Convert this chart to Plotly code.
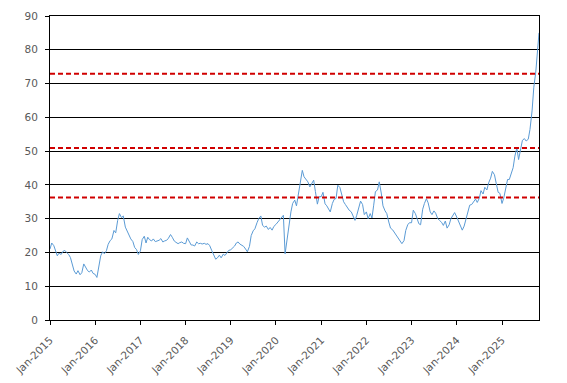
import pandas as pd
import plotly.graph_objects as go

# Half-monthly readings (1st and 15th of each month)
v2015 = [21.0, 22.8, 22.0, 20.5, 19.0, 19.8, 19.4, 20.3, 20.6, 20.0, 19.4, 18.5,
         16.0, 14.5, 13.6, 14.6, 13.4, 14.0, 16.6, 15.6, 14.6, 14.2, 14.8, 13.8]
v2016 = [13.5, 12.6, 16.8, 19.0, 20.2, 19.6, 20.5, 22.4, 23.5, 24.0, 26.5, 25.8,
         29.5, 31.5, 30.3, 30.8, 27.5, 26.4, 25.0, 24.0, 23.2, 21.5, 20.8, 19.4]
v2017 = [20.5, 23.8, 24.8, 22.8, 24.5, 23.8, 23.4, 24.0, 23.2, 23.4, 23.6, 24.1,
         23.1, 23.4, 23.6, 24.2, 25.3, 24.5, 23.4, 23.0, 22.6, 22.9, 23.1, 22.7]
v2018 = [22.6, 24.3, 23.0, 22.2, 22.2, 21.9, 23.1, 22.6, 22.7, 22.5, 22.7, 22.4,
         22.6, 22.0, 20.5, 19.4, 18.0, 18.4, 19.2, 18.4, 19.5, 19.1, 19.8, 20.6]
v2019 = [20.8, 21.3, 21.9, 22.8, 23.1, 22.5, 22.0, 21.8, 21.0, 20.2, 21.8, 25.0,
         26.4, 27.0, 28.8, 30.0, 30.8, 28.0, 27.5, 27.8, 26.8, 27.4, 26.6, 27.7]
v2020 = [28.3, 29.0, 29.5, 30.5, 31.0, 19.6, 24.6, 28.0, 32.0, 34.5, 35.5, 33.8,
         37.5, 40.5, 44.3, 42.4, 41.5, 40.9, 39.4, 40.2, 41.4, 38.0, 34.3, 36.5]
v2021 = [36.5, 37.8, 34.4, 33.8, 33.0, 32.0, 34.5, 35.7, 36.0, 39.9, 39.2, 37.5,
         35.0, 34.2, 33.2, 32.5, 32.0, 31.0, 29.5, 31.0, 33.0, 35.2, 34.2, 31.2]
v2022 = [32.0, 30.0, 31.5, 30.2, 34.0, 38.0, 38.5, 40.9, 37.6, 33.8, 32.3, 31.5,
         29.0, 27.2, 26.7, 26.0, 25.0, 24.4, 23.5, 22.6, 23.5, 26.5, 28.2, 28.8]
v2023 = [28.8, 32.5, 31.5, 29.8, 28.5, 28.2, 32.8, 34.5, 35.9, 34.7, 32.0, 31.2,
         32.3, 31.6, 30.0, 29.5, 28.9, 28.0, 29.3, 27.2, 28.2, 30.0, 31.0, 31.8]
v2024 = [30.5, 29.2, 27.8, 26.6, 27.8, 29.8, 32.5, 34.0, 34.2, 35.0, 35.8, 34.8,
         36.0, 38.3, 37.3, 39.3, 38.5, 40.6, 42.0, 44.0, 43.0, 40.5, 37.8, 37.5]
v2025 = [34.5, 36.1, 39.1, 41.6, 41.6, 43.1, 45.1, 48.5, 51.0, 47.5, 50.5, 53.2,
         53.7, 53.0, 53.5, 56.4, 61.9, 68.9, 73.4, 78.9]

extra_dates = ["2025-10-22", "2025-10-27"]
extra_values = [82.0, 85.0]

levels = [36.3, 50.9, 72.9]

values = v2015 + v2016 + v2017 + v2018 + v2019 + v2020 + v2021 + v2022 + v2023 + v2024 + v2025
dates = list(pd.date_range("2015-01-01", periods=len(values), freq="SMS"))
dates += list(pd.to_datetime(extra_dates))
values += extra_values

FONT = "DejaVu Sans"
GREY = "#595959"

fig = go.Figure()
fig.add_trace(go.Scatter(x=dates, y=values, mode="lines",
                         line=dict(color="#5B9BD5", width=1), showlegend=False))
for lvl in levels:
    fig.add_hline(y=lvl, line=dict(color="#D00000", width=2, dash="5px,3px"))

fig.update_layout(
    width=567, height=383,
    margin=dict(l=50, r=28, t=16, b=63),
    paper_bgcolor="white", plot_bgcolor="white",
    showlegend=False,
    font=dict(family=FONT, size=10, color=GREY),
)
fig.update_xaxes(
    type="date", range=["2015-01-01", "2025-10-27"], automargin=False,
    tick0="2015-01-01", dtick="M12", tickformat="%b-%Y", tickangle=-45,
    ticks="outside", ticklen=4, tickcolor="black", ticklabelstandoff=5,
    showline=True, linecolor="black", linewidth=1, mirror=True,
    showgrid=False, zeroline=False,
    tickfont=dict(family=FONT, size=10.5, color=GREY),
)
fig.update_yaxes(
    range=[0, 90], dtick=10, automargin=False,
    ticks="outside", ticklen=4, tickcolor="black", ticklabelstandoff=5,
    showline=True, linecolor="black", linewidth=1, mirror=True,
    showgrid=True, gridcolor="black", gridwidth=1, zeroline=False,
    tickfont=dict(family=FONT, size=10.5, color=GREY),
)

fig.write_html("out.html", config={"displayModeBar": False},
               post_script="document.body.style.margin='0';")
